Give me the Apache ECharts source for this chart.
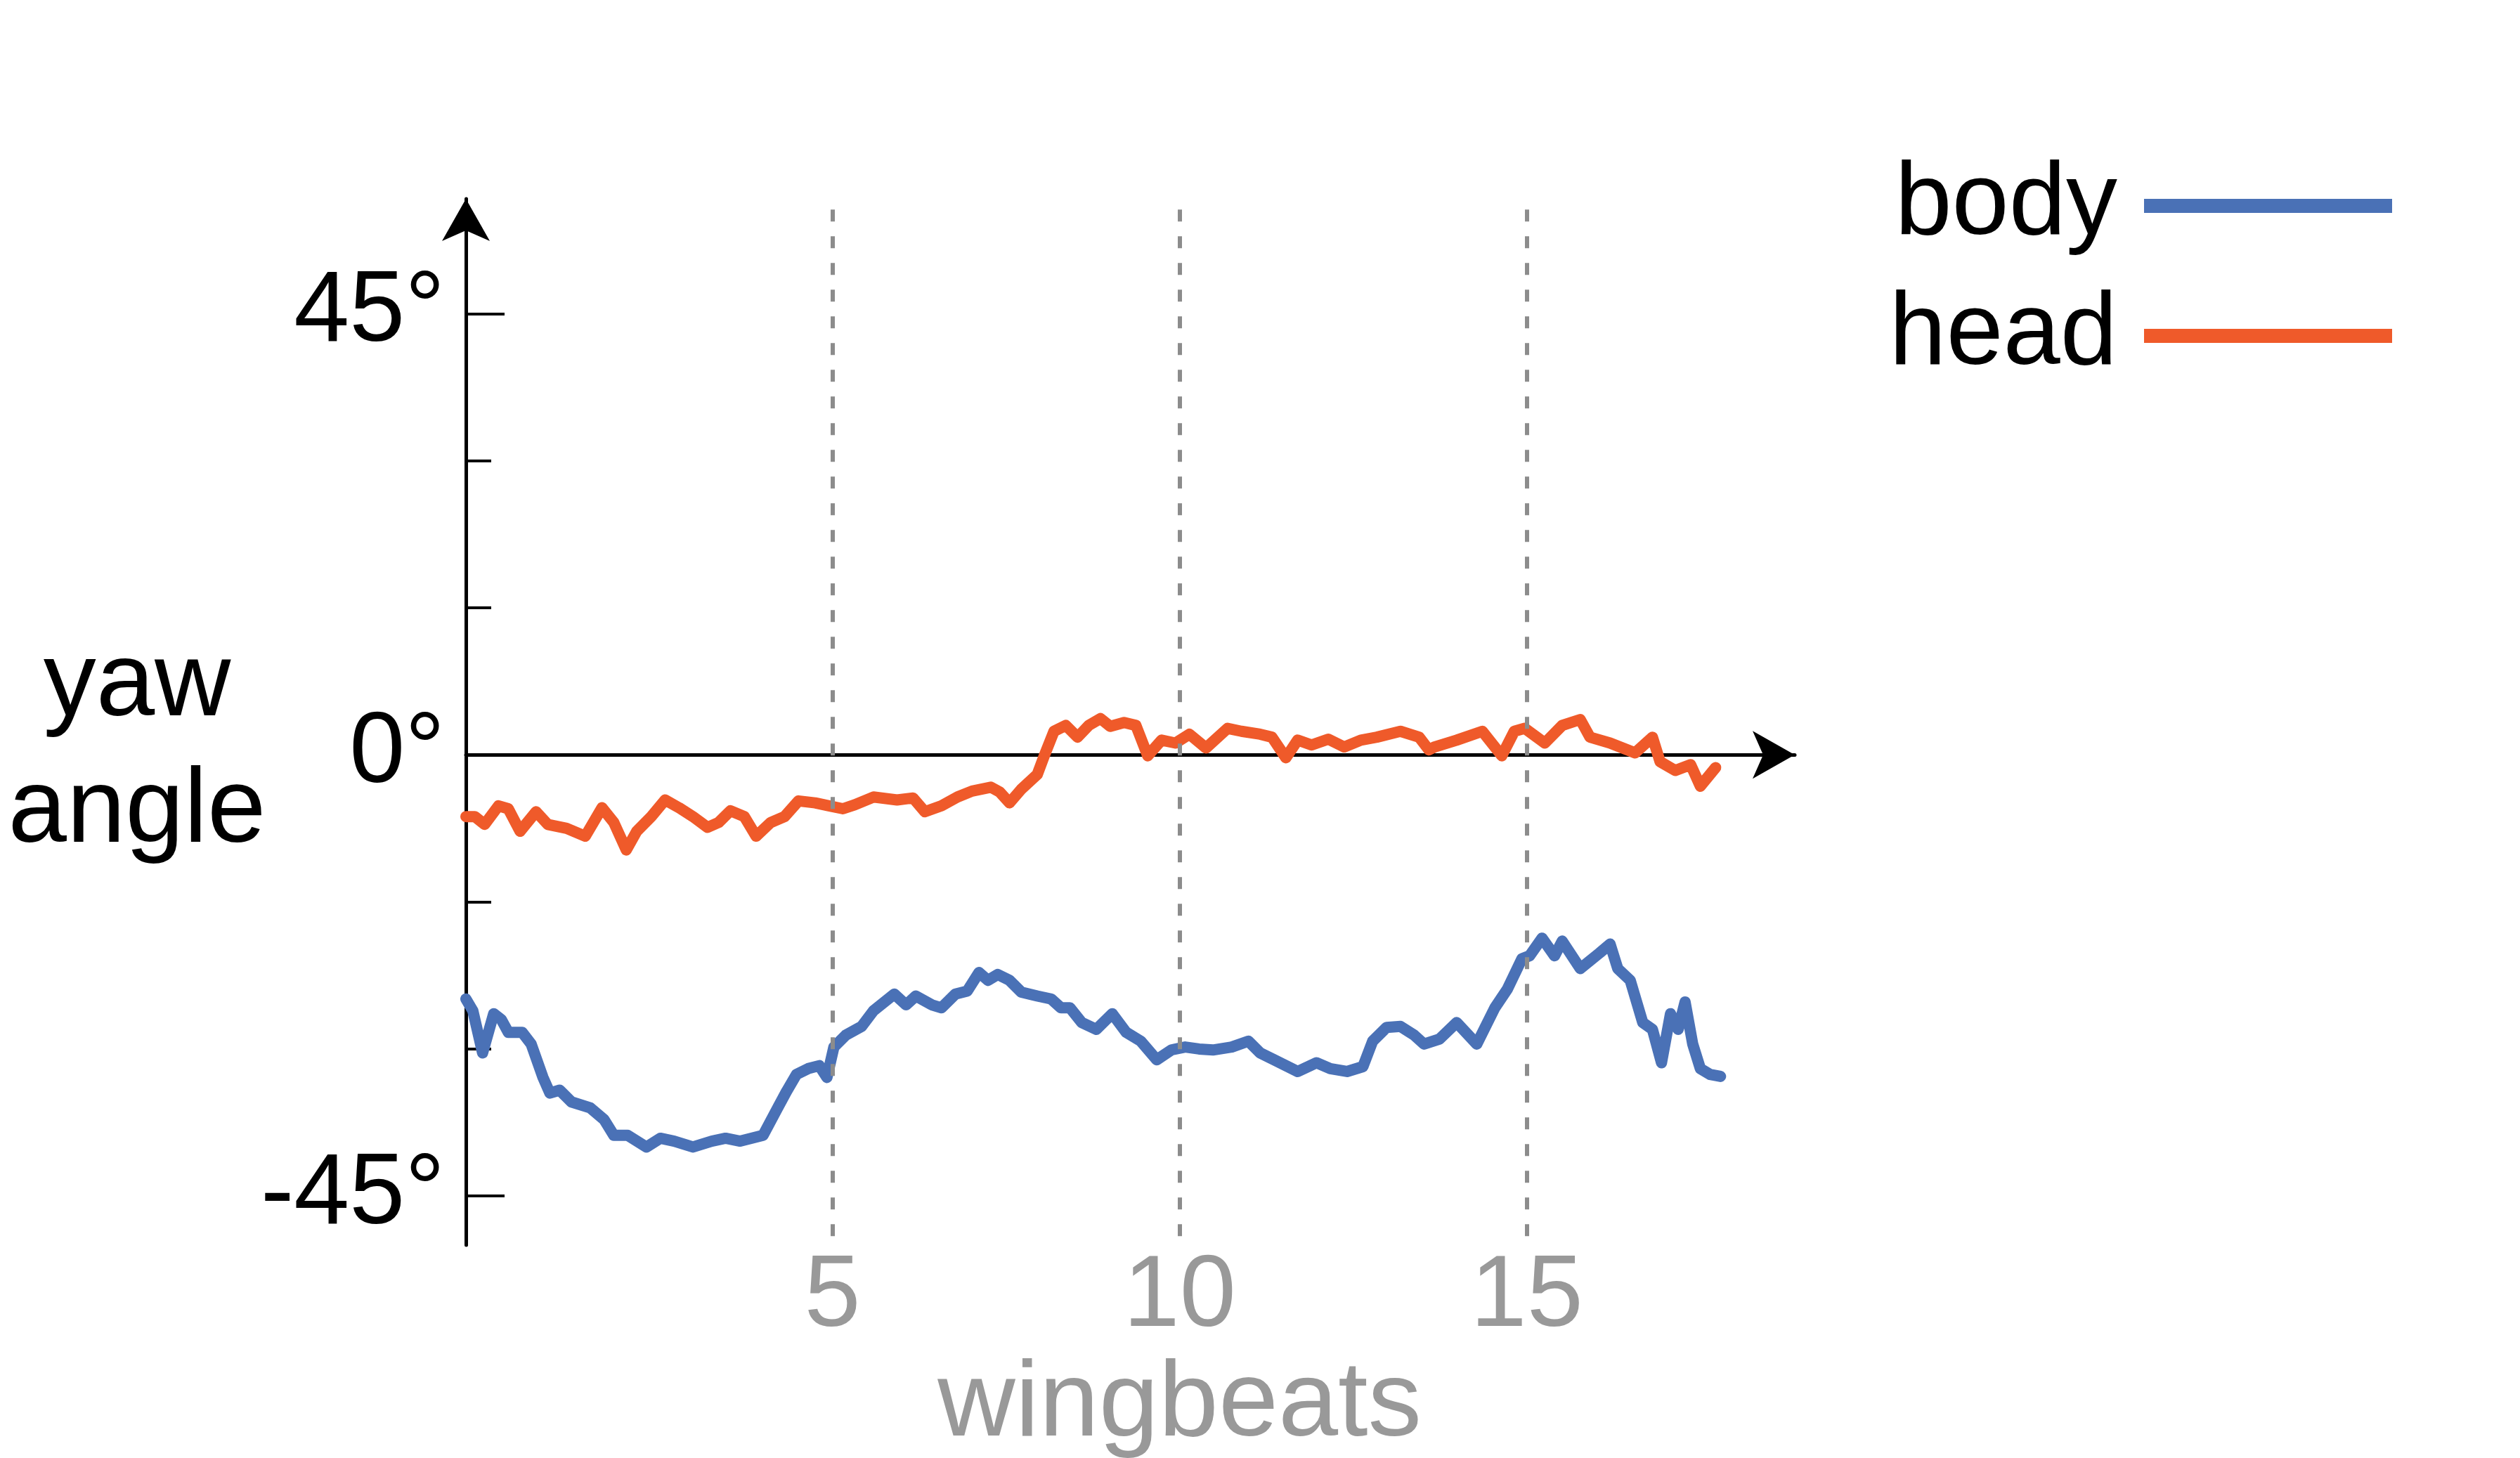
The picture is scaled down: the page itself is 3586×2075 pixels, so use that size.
<!DOCTYPE html>
<html>
<head>
<meta charset="utf-8">
<script src="https://cdn.jsdelivr.net/npm/echarts@6/dist/echarts.min.js"></script>
<style>
html,body{margin:0;padding:0;background:#fff;}
#c{width:3586px;height:2075px;}
</style>
</head>
<body>
<div id="c"></div>
<script>
// wingbeats (x) and yaw angle in degrees (y)
const bodyX = [-0.28,-0.18,-0.04,0.12,0.23,0.33,0.53,0.66,0.83,0.93,1.07,1.24,1.51,1.71,1.85,2.05,2.32,2.52,2.72,2.99,3.26,3.46,3.67,4.0,4.21,4.34,4.48,4.65,4.81,4.92,5.02,5.19,5.42,5.59,5.89,6.06,6.20,6.43,6.57,6.77,6.94,7.11,7.24,7.38,7.55,7.72,7.95,8.15,8.29,8.42,8.59,8.80,9.03,9.23,9.44,9.67,9.88,10.08,10.28,10.48,10.75,10.99,11.16,11.36,11.70,11.97,12.17,12.41,12.64,12.78,12.98,13.18,13.38,13.52,13.74,13.99,14.28,14.54,14.72,14.93,15.04,15.22,15.40,15.51,15.77,16.05,16.20,16.31,16.49,16.67,16.81,16.94,17.07,17.18,17.28,17.39,17.50,17.64,17.79];
const bodyY = [-24.9,-26.1,-30.4,-26.4,-27.0,-28.3,-28.3,-29.5,-32.9,-34.5,-34.2,-35.4,-36.0,-37.2,-38.8,-38.8,-40.0,-39.1,-39.4,-40.0,-39.4,-39.1,-39.4,-38.8,-36.0,-34.3,-32.6,-32.0,-31.7,-32.9,-29.8,-28.6,-27.7,-26.1,-24.4,-25.5,-24.6,-25.5,-25.8,-24.4,-24.1,-22.2,-23.0,-22.4,-23.0,-24.2,-24.6,-24.9,-25.8,-25.8,-27.3,-28.0,-26.4,-28.3,-29.2,-31.1,-30.1,-29.8,-30.0,-30.1,-29.8,-29.2,-30.4,-31.1,-32.3,-31.4,-32.0,-32.3,-31.8,-29.2,-27.8,-27.7,-28.6,-29.5,-29.0,-27.3,-29.5,-25.8,-23.9,-20.8,-20.5,-18.7,-20.5,-19.0,-21.8,-20.2,-19.3,-21.8,-23.0,-27.3,-28.0,-31.4,-26.4,-28.0,-25.2,-29.5,-32.0,-32.6,-32.8];
const headX = [-0.28,-0.15,-0.01,0.19,0.33,0.50,0.73,0.90,1.17,1.44,1.68,1.85,2.03,2.18,2.39,2.59,2.79,2.99,3.20,3.36,3.53,3.73,3.90,4.11,4.31,4.51,4.75,4.95,5.15,5.32,5.59,5.93,6.16,6.33,6.57,6.80,7.01,7.28,7.41,7.55,7.72,7.95,8.05,8.19,8.36,8.53,8.69,8.86,9.0,9.20,9.37,9.54,9.74,9.94,10.14,10.38,10.69,10.89,11.16,11.33,11.53,11.70,11.90,12.14,12.37,12.61,12.84,13.18,13.45,13.59,13.67,13.99,14.36,14.64,14.82,14.97,15.26,15.51,15.77,15.91,16.20,16.56,16.81,16.92,17.14,17.36,17.50,17.72];
const headY = [-6.3,-6.3,-7.1,-5.2,-5.5,-7.8,-5.8,-7.1,-7.5,-8.3,-5.4,-6.9,-9.7,-7.8,-6.3,-4.6,-5.4,-6.3,-7.4,-6.9,-5.7,-6.3,-8.3,-6.9,-6.3,-4.7,-4.9,-5.2,-5.5,-5.1,-4.3,-4.6,-4.4,-5.8,-5.2,-4.3,-3.7,-3.3,-3.8,-4.9,-3.5,-2.0,-0.1,2.4,3.0,1.8,3.0,3.7,2.9,3.3,3.0,-0.1,1.5,1.2,2.1,0.7,2.7,2.4,2.1,1.8,-0.3,1.5,1.0,1.6,0.8,1.5,1.8,2.4,1.8,0.5,0.8,1.5,2.4,-0.1,2.4,2.7,1.2,3.0,3.6,1.8,1.2,0.2,1.8,-0.7,-1.6,-1.0,-3.2,-1.3];
const seriesNames = ['body', 'head'];
const seriesColors = ['#4A71B6', '#EF5A2A'];
const xTickLabels = [5, 10, 15];
const yTickLabels = [-45, 0, 45];
const yMajorTicks = [-45, 45];
const yMinorTicks = [-30, -15, 15, 30];
const xRange = [-0.28, 18.86];
const yRange = [-50, 56.7];
const dashSpan = [-49.1, 55.6];   // vertical extent of the dashed guide lines, in degrees
const xAxisTitle = 'wingbeats';
const yAxisTitleLines = ['yaw', 'angle'];

const FONT = 'Liberation Sans, Arial, Helvetica, sans-serif';
const zip = (xs, ys) => xs.map((x, i) => [x, ys[i]]);

const chart = echarts.init(document.getElementById('c'), null, {renderer: 'canvas', width: 3586, height: 2075});
chart.setOption({
  animation: false,
  backgroundColor: '#ffffff',
  grid: {left: 663, right: 1032, top: 283, bottom: 303, containLabel: false, outerBoundsMode: 'none'},
  legend: {
    data: seriesNames,
    orient: 'vertical',
    right: 182, top: 220,
    align: 'right',
    icon: 'rect',
    itemWidth: 353, itemHeight: 20, itemGap: 39,
    padding: 0,
    textStyle: {fontSize: 146, lineHeight: 146, color: '#000', fontFamily: FONT, padding: [0, 33, 0, 0]}
  },
  xAxis: [
    {
      type: 'value', min: xRange[0], max: xRange[1], position: 'bottom',
      axisLine: {show: true, onZero: true, onZeroAxisIndex: 0, symbol: ['none', 'arrow'], symbolSize: [51, 60],
        lineStyle: {color: '#000', width: 5}},
      axisTick: {show: false}, axisLabel: {show: false}, splitLine: {show: false}
    },
    {
      type: 'value', min: xRange[0], max: xRange[1], position: 'bottom',
      axisLine: {show: false, onZero: false},
      axisTick: {show: false}, splitLine: {show: false},
      axisLabel: {
        show: true, customValues: xTickLabels, margin: 0,
        color: '#999999', fontSize: 144, lineHeight: 150, fontFamily: FONT,
        formatter: v => v === 10 ? '10\n{w|' + xAxisTitle + '}' : String(v),
        rich: {w: {fontSize: 153, lineHeight: 158, color: '#999999', fontFamily: FONT, align: 'center'}}
      }
    }
  ],
  yAxis: [
    {
      type: 'value', min: yRange[0], max: yRange[1], position: 'left',
      axisLine: {show: true, onZero: false, symbol: ['none', 'arrow'], symbolSize: [51, 60],
        lineStyle: {color: '#000', width: 5}},
      axisTick: {show: true, inside: true, length: 55, customValues: yMajorTicks, lineStyle: {color: '#000', width: 4}},
      axisLabel: {show: true, customValues: yTickLabels, formatter: v => v + '°', margin: 30,
        color: '#000', fontSize: 142, fontFamily: FONT},
      splitLine: {show: false},
      name: '{s| }\n' + yAxisTitleLines.map(t => '{a|' + t + '}').join('\n'),
      nameLocation: 'middle', nameRotate: 0, nameGap: 468, nameMoveOverlap: false,
      nameTextStyle: {
        fontSize: 150, lineHeight: 180, color: '#000', fontFamily: FONT, align: 'center', verticalAlign: 'middle',
        rich: {
          s: {fontSize: 10, lineHeight: 78, align: 'center'},
          a: {fontSize: 150, lineHeight: 180, color: '#000', fontFamily: FONT, align: 'center'}
        }
      }
    },
    {
      type: 'value', min: yRange[0], max: yRange[1], position: 'left',
      axisLine: {show: false, onZero: false},
      axisTick: {show: true, inside: true, length: 36, customValues: yMinorTicks, lineStyle: {color: '#000', width: 4}},
      axisLabel: {show: false}, splitLine: {show: false}
    }
  ],
  series: [
    {
      name: seriesNames[0], type: 'line', xAxisIndex: 0, yAxisIndex: 0,
      data: zip(bodyX, bodyY), showSymbol: false, symbol: 'none',
      color: seriesColors[0],
      lineStyle: {color: seriesColors[0], width: 16, join: 'round', cap: 'round'},
      markLine: {
        silent: true, symbol: ['none', 'none'], label: {show: false},
        lineStyle: {color: '#8c8c8c', width: 6, type: [17, 21]},
        data: xTickLabels.map(v => [{coord: [v, dashSpan[1]]}, {coord: [v, dashSpan[0]]}])
      },
      z: 3
    },
    {
      name: seriesNames[1], type: 'line', xAxisIndex: 0, yAxisIndex: 0,
      data: zip(headX, headY), showSymbol: false, symbol: 'none',
      color: seriesColors[1],
      lineStyle: {color: seriesColors[1], width: 16, join: 'round', cap: 'round'},
      z: 3
    }
  ]
});
</script>
</body>
</html>
